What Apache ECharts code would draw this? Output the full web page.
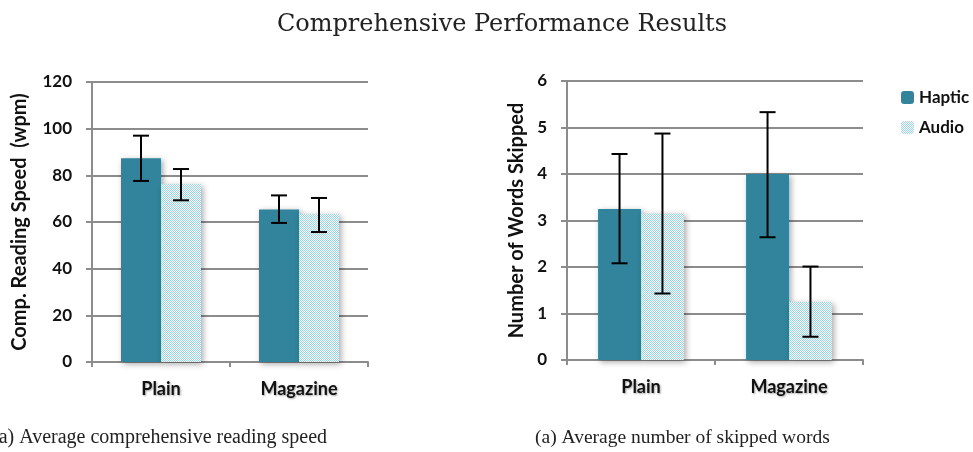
<!DOCTYPE html>
<html><head><meta charset="utf-8">
<script src="https://cdn.jsdelivr.net/npm/echarts@6/dist/echarts.min.js"></script>
<style>html,body{margin:0;padding:0;background:#fff}#c{width:973px;height:452px}</style>
</head><body><div id="c"></div>
<script>
const categories = ['Plain', 'Magazine'];
const seriesNames = ['Haptic', 'Audio'];
// Left chart: comprehension reading speed (wpm)
const speedHaptic = [87.3, 65.4];
const speedAudio = [76.2, 63.4];
const speedHapticErr = [[77.6, 97.0], [59.6, 71.4]];
const speedAudioErr = [[69.3, 82.7], [55.7, 70.3]];
// Right chart: number of words skipped
const skipHaptic = [3.25, 4.0];
const skipAudio = [3.15, 1.25];
const skipHapticErr = [[2.08, 4.43], [2.64, 5.33]];
const skipAudioErr = [[1.43, 4.87], [0.5, 2.01]];
const titleText = 'Comprehensive Performance Results';
const captionLeft = '(a) Average comprehensive reading speed';
const captionRight = '(a) Average number of skipped words';

const hapticColor = '#31849b';
const pc = document.createElement('canvas');
pc.width = 4; pc.height = 4;
const g = pc.getContext('2d');
g.fillStyle = '#f0f9fb'; g.fillRect(0, 0, 4, 4);
g.fillStyle = '#a3d4e3';
g.fillRect(0, 0, 1, 1); g.fillRect(2, 0, 1, 1); g.fillRect(1, 1, 1, 1); g.fillRect(3, 1, 1, 1);
g.fillRect(0, 2, 1, 1); g.fillRect(2, 2, 1, 1); g.fillRect(1, 3, 1, 1); g.fillRect(3, 3, 1, 1);
const audioColor = { image: pc, repeat: 'repeat' };

const BW = 0.29;
function errSeries(name, data, axisIdx, side) {
  return {
    type: 'custom', xAxisIndex: axisIdx, yAxisIndex: axisIdx, z: 5, silent: true,
    data: data.map((d, i) => [i, d[0], d[1]]),
    renderItem: function (params, api) {
      const lo = api.coord([api.value(0), api.value(1)]);
      const hi = api.coord([api.value(0), api.value(2)]);
      const band = api.size([1, 0])[0];
      const x = lo[0] + side * band * BW / 2;
      const cap = 8;
      const st = { stroke: '#000', lineWidth: 2 };
      return { type: 'group', children: [
        { type: 'line', shape: { x1: x, y1: lo[1], x2: x, y2: hi[1] }, style: st },
        { type: 'line', shape: { x1: x - cap, y1: lo[1], x2: x + cap, y2: lo[1] }, style: st },
        { type: 'line', shape: { x1: x - cap, y1: hi[1], x2: x + cap, y2: hi[1] }, style: st }
      ]};
    }
  };
}
const shadow = { shadowBlur: 6, shadowColor: 'rgba(0,0,0,0.35)', shadowOffsetX: 2, shadowOffsetY: 2 };
const tickFont = { fontFamily: 'Lato', fontWeight: 'bold', fontSize: 17, color: '#111' };
const grayLine = { color: '#8c8c8c', width: 2 };
function xAx(idx) {
  return {
    type: 'category', gridIndex: idx, data: categories,
    axisLine: { lineStyle: grayLine },
    axisTick: { show: true, length: 5, alignWithLabel: false, lineStyle: grayLine },
    axisLabel: { fontFamily: 'Lato', fontWeight: 'bold', fontSize: 18, color: '#111', margin: 18,
      textShadowColor: 'rgba(0,0,0,0.35)', textShadowBlur: 2, textShadowOffsetX: 1, textShadowOffsetY: 1 }
  };
}
function yAx(idx, max, interval, name) {
  return {
    type: 'value', gridIndex: idx, min: 0, max: max, interval: interval,
    name: name, nameLocation: 'middle', nameGap: idx === 0 ? 62 : 40, nameRotate: 90,
    nameTextStyle: { fontFamily: 'Lato', fontWeight: 'bold', fontSize: 20, color: '#111' },
    axisLine: { show: true, lineStyle: grayLine },
    axisTick: { show: true, length: 6, lineStyle: grayLine },
    axisLabel: Object.assign({ margin: 20 }, tickFont),
    splitLine: { lineStyle: grayLine }
  };
}

const chart = echarts.init(document.getElementById('c'));
chart.setOption({
  animation: false,
  backgroundColor: '#fff',
  title: { text: titleText, left: 497, top: 8, textAlign: 'center',
    textStyle: { fontFamily: 'DejaVu Serif', fontWeight: 'normal', fontSize: 24, color: '#222' } },
  legend: { data: seriesNames, orient: 'vertical', left: 901, top: 89, padding: 0, itemWidth: 13, itemHeight: 13, itemGap: 13,
    textStyle: { fontFamily: 'Lato', fontWeight: 'bold', fontSize: 17, color: '#111' } },
  graphic: [
    { type: 'text', left: -8, top: 428, style: { text: captionLeft, fontFamily: 'Liberation Serif', fontSize: 20, fill: '#222' } },
    { type: 'text', left: 535, top: 428, style: { text: captionRight, fontFamily: 'Liberation Serif', fontSize: 19.5, fill: '#222' } }
  ],
  grid: [
    { left: 92, top: 82, width: 276, height: 280 },
    { left: 567, top: 81, width: 296, height: 279 }
  ],
  xAxis: [xAx(0), xAx(1)],
  yAxis: [yAx(0, 120, 20, 'Comp. Reading Speed  (wpm)'), yAx(1, 6, 1, 'Number of Words Skipped')],
  series: [
    { name: 'Haptic', type: 'bar', xAxisIndex: 0, yAxisIndex: 0, data: speedHaptic, barWidth: '29%', barGap: '0%',
      itemStyle: Object.assign({ color: hapticColor }, shadow) },
    { name: 'Audio', type: 'bar', xAxisIndex: 0, yAxisIndex: 0, data: speedAudio, barWidth: '29%', barGap: '0%',
      itemStyle: Object.assign({ color: audioColor }, shadow) },
    { name: 'Haptic', type: 'bar', xAxisIndex: 1, yAxisIndex: 1, data: skipHaptic, barWidth: '29%', barGap: '0%',
      itemStyle: Object.assign({ color: hapticColor }, shadow) },
    { name: 'Audio', type: 'bar', xAxisIndex: 1, yAxisIndex: 1, data: skipAudio, barWidth: '29%', barGap: '0%',
      itemStyle: Object.assign({ color: audioColor }, shadow) },
    errSeries('e1', speedHapticErr, 0, -1),
    errSeries('e2', speedAudioErr, 0, 1),
    errSeries('e3', skipHapticErr, 1, -1),
    errSeries('e4', skipAudioErr, 1, 1)
  ]
});
</script></body></html>
